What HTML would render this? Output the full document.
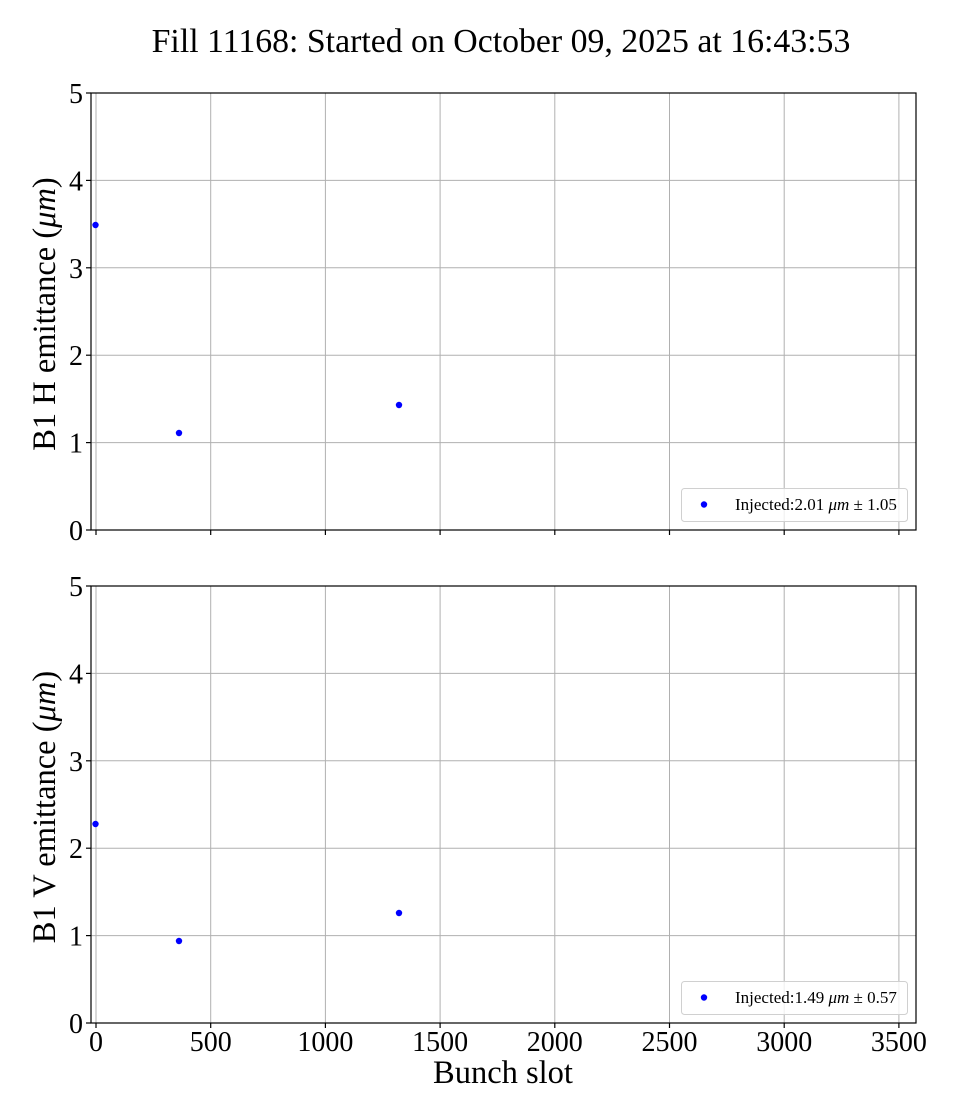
<!DOCTYPE html>
<html><head><meta charset="utf-8"><style>body{margin:0;background:#fff}svg{display:block}text{font-family:"Liberation Serif",serif;fill:#000}</style></head>
<body>
<svg width="960" height="1120" viewBox="0 0 960 1120" xmlns="http://www.w3.org/2000/svg">
<rect width="960" height="1120" fill="#fff"/>
<text x="501" y="52" font-size="33.8" text-anchor="middle">Fill 11168: Started on October 09, 2025 at 16:43:53</text>
<g stroke="#b0b0b0" stroke-width="1">
<line x1="96" y1="93" x2="96" y2="530"/><line x1="210.7" y1="93" x2="210.7" y2="530"/><line x1="325.4" y1="93" x2="325.4" y2="530"/><line x1="440.1" y1="93" x2="440.1" y2="530"/><line x1="554.8" y1="93" x2="554.8" y2="530"/><line x1="669.5" y1="93" x2="669.5" y2="530"/><line x1="784.2" y1="93" x2="784.2" y2="530"/><line x1="898.9" y1="93" x2="898.9" y2="530"/>
<line x1="91" y1="442.6" x2="916" y2="442.6"/><line x1="91" y1="355.2" x2="916" y2="355.2"/><line x1="91" y1="267.8" x2="916" y2="267.8"/><line x1="91" y1="180.4" x2="916" y2="180.4"/>
<line x1="96" y1="586" x2="96" y2="1023"/><line x1="210.7" y1="586" x2="210.7" y2="1023"/><line x1="325.4" y1="586" x2="325.4" y2="1023"/><line x1="440.1" y1="586" x2="440.1" y2="1023"/><line x1="554.8" y1="586" x2="554.8" y2="1023"/><line x1="669.5" y1="586" x2="669.5" y2="1023"/><line x1="784.2" y1="586" x2="784.2" y2="1023"/><line x1="898.9" y1="586" x2="898.9" y2="1023"/>
<line x1="91" y1="935.6" x2="916" y2="935.6"/><line x1="91" y1="848.2" x2="916" y2="848.2"/><line x1="91" y1="760.8" x2="916" y2="760.8"/><line x1="91" y1="673.4" x2="916" y2="673.4"/>
</g>
<g fill="none" stroke="#000" stroke-width="1.2">
<rect x="91" y="93" width="825" height="437"/>
<rect x="91" y="586" width="825" height="437"/>
</g>
<g stroke="#000" stroke-width="1.2">
<line x1="96" y1="530" x2="96" y2="535"/><line x1="210.7" y1="530" x2="210.7" y2="535"/><line x1="325.4" y1="530" x2="325.4" y2="535"/><line x1="440.1" y1="530" x2="440.1" y2="535"/><line x1="554.8" y1="530" x2="554.8" y2="535"/><line x1="669.5" y1="530" x2="669.5" y2="535"/><line x1="784.2" y1="530" x2="784.2" y2="535"/><line x1="898.9" y1="530" x2="898.9" y2="535"/>
<line x1="96" y1="1023" x2="96" y2="1028"/><line x1="210.7" y1="1023" x2="210.7" y2="1028"/><line x1="325.4" y1="1023" x2="325.4" y2="1028"/><line x1="440.1" y1="1023" x2="440.1" y2="1028"/><line x1="554.8" y1="1023" x2="554.8" y2="1028"/><line x1="669.5" y1="1023" x2="669.5" y2="1028"/><line x1="784.2" y1="1023" x2="784.2" y2="1028"/><line x1="898.9" y1="1023" x2="898.9" y2="1028"/>
<line x1="86" y1="530" x2="91" y2="530"/><line x1="86" y1="442.6" x2="91" y2="442.6"/><line x1="86" y1="355.2" x2="91" y2="355.2"/><line x1="86" y1="267.8" x2="91" y2="267.8"/><line x1="86" y1="180.4" x2="91" y2="180.4"/><line x1="86" y1="93" x2="91" y2="93"/>
<line x1="86" y1="1023" x2="91" y2="1023"/><line x1="86" y1="935.6" x2="91" y2="935.6"/><line x1="86" y1="848.2" x2="91" y2="848.2"/><line x1="86" y1="760.8" x2="91" y2="760.8"/><line x1="86" y1="673.4" x2="91" y2="673.4"/><line x1="86" y1="586" x2="91" y2="586"/>
</g>
<g font-size="28" text-anchor="end">
<text x="83" y="540">0</text><text x="83" y="452.6">1</text><text x="83" y="365.2">2</text><text x="83" y="277.8">3</text><text x="83" y="190.4">4</text><text x="83" y="103">5</text>
<text x="83" y="1033">0</text><text x="83" y="945.6">1</text><text x="83" y="858.2">2</text><text x="83" y="770.8">3</text><text x="83" y="683.4">4</text><text x="83" y="596">5</text>
</g>
<g font-size="28" text-anchor="middle">
<text x="96" y="1051">0</text><text x="210.7" y="1051">500</text><text x="325.4" y="1051">1000</text><text x="440.1" y="1051">1500</text><text x="554.8" y="1051">2000</text><text x="669.5" y="1051">2500</text><text x="784.2" y="1051">3000</text><text x="898.9" y="1051">3500</text>
</g>
<text x="503" y="1083" font-size="32.5" text-anchor="middle">Bunch slot</text>
<text transform="translate(55,314) rotate(-90)" font-size="32.5" text-anchor="middle">B1 H emittance (<tspan font-style="italic">μm</tspan>)</text>
<text transform="translate(55,807) rotate(-90)" font-size="32.5" text-anchor="middle">B1 V emittance (<tspan font-style="italic">μm</tspan>)</text>
<g fill="#0000ff">
<circle cx="95.5" cy="225" r="3.2"/><circle cx="179" cy="433" r="3.2"/><circle cx="399" cy="405" r="3.2"/>
<circle cx="95.5" cy="824" r="3.2"/><circle cx="179" cy="941" r="3.2"/><circle cx="399" cy="913" r="3.2"/>
</g>
<rect x="681.5" y="488.5" width="226" height="33" rx="3" fill="#fff" fill-opacity="0.8" stroke="#d0d0d0"/>
<circle cx="704" cy="504.5" r="3.2" fill="#0000ff"/>
<text x="735" y="510" font-size="17">Injected:2.01 <tspan font-style="italic">μm</tspan> ± 1.05</text>
<rect x="681.5" y="981.5" width="226" height="33" rx="3" fill="#fff" fill-opacity="0.8" stroke="#d0d0d0"/>
<circle cx="704" cy="997.5" r="3.2" fill="#0000ff"/>
<text x="735" y="1003" font-size="17">Injected:1.49 <tspan font-style="italic">μm</tspan> ± 0.57</text>
</svg>
</body></html>
